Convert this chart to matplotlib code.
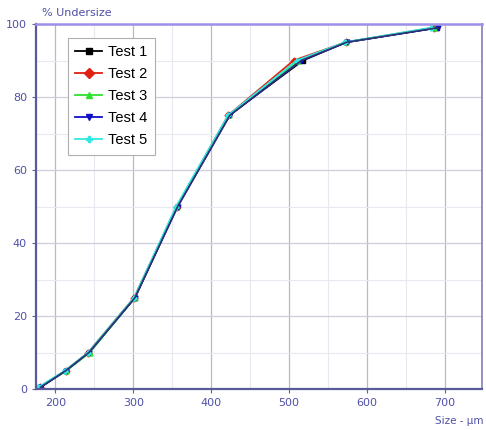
import matplotlib
matplotlib.use("Agg")
import matplotlib.pyplot as plt
from matplotlib.ticker import MultipleLocator

series_names = ["Test 1", "Test 2", "Test 3", "Test 4", "Test 5"]
undersize = [0.5, 5, 10, 25, 50, 75, 90, 95, 99]
size_t1 = [180, 213, 243, 302, 356, 423, 518, 573, 690]
size_t2 = [180, 213, 242, 301, 356, 422, 506, 573, 686]
size_t3 = [180, 214, 244, 302, 356, 423, 512, 573, 688]
size_t4 = [181, 213, 243, 302, 357, 424, 516, 574, 692]
size_t5 = [178, 212, 242, 301, 355, 422, 510, 572, 683]
sizes = [size_t1, size_t2, size_t3, size_t4, size_t5]
colors = ["#000000", "#e02010", "#30e030", "#1010c8", "#30e8e0"]
markers = ["s", "D", "^", "v", "P"]

fig = plt.figure(figsize=(4.86, 4.30), dpi=100)
ax = fig.add_axes([36/486, 41/430, 446/486, 365/430])

for name, xs, c, m in zip(series_names, sizes, colors, markers):
    ax.plot(xs, undersize, color=c, marker=m, markersize=3.5, linewidth=1.3, label=name)
# dark overlay line as seen on top
ax.plot(size_t4, undersize, color="#303070", linewidth=1.2, zorder=3)

ax.set_xlim(175, 748)
ax.set_ylim(0, 100)
ax.xaxis.set_major_locator(MultipleLocator(100))
ax.xaxis.set_minor_locator(MultipleLocator(50))
ax.yaxis.set_major_locator(MultipleLocator(20))
ax.yaxis.set_minor_locator(MultipleLocator(10))
ax.grid(which="major", axis="x", color="#b8b8c8", linewidth=0.9)
ax.grid(which="major", axis="y", color="#cfcfdc", linewidth=0.9)
ax.grid(which="minor", color="#e8e8f0", linewidth=0.8)
ax.set_axisbelow(True)

lab = "#5050a8"
ax.tick_params(axis="both", which="major", labelsize=8, labelcolor=lab, color="#6060a0", length=3, direction="out")
ax.tick_params(axis="both", which="minor", length=0)
for s in ["left", "bottom"]:
    ax.spines[s].set_color("#5a5a98")
    ax.spines[s].set_linewidth(1.6)
ax.spines["top"].set_color("#9a90e8")
ax.spines["top"].set_linewidth(1.8)
ax.spines["right"].set_color("#8080b0")
ax.spines["right"].set_linewidth(1.2)

fig.text(42/486, 1 - 13/430, "% Undersize", color=lab, fontsize=8, ha="left", va="center")
fig.text(483/486, 1 - 421/430, "Size - µm", color=lab, fontsize=7.5, ha="right", va="center")

leg = ax.legend(loc="upper left", bbox_to_anchor=(0.072, 0.962), borderaxespad=0,
                prop={"family": "Liberation Sans", "size": 10.5}, frameon=True,
                fancybox=False, edgecolor="#b0b0b0", framealpha=1, handlelength=1.8,
                borderpad=0.5, labelspacing=0.55, handletextpad=0.45, markerscale=1.4)
leg.get_frame().set_linewidth(0.8)

fig.savefig("out.png", dpi=100)
